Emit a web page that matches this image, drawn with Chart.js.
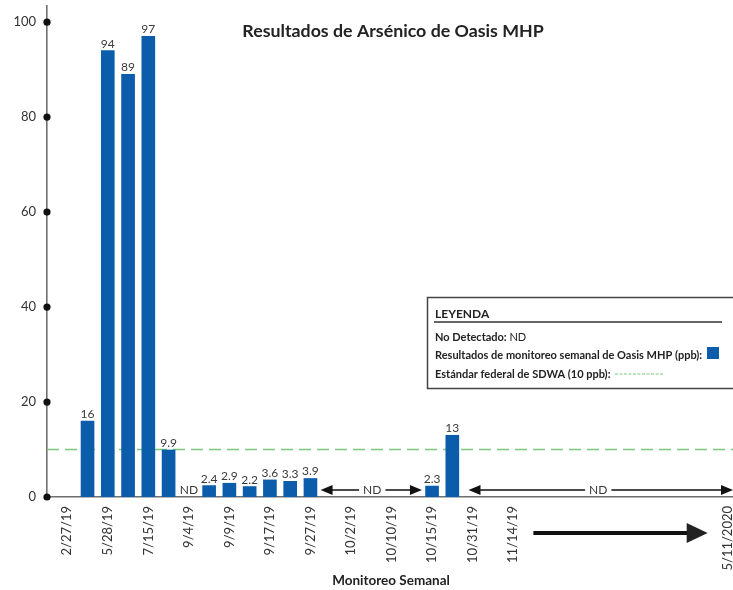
<!DOCTYPE html>
<html><head><meta charset="utf-8">
<script src="https://cdn.jsdelivr.net/npm/chart.js@4/dist/chart.umd.min.js"></script>
<style>html,body{margin:0;padding:0;background:#fff}#wrap{width:733px;height:590px;position:relative}</style>
</head><body><div id="wrap"><canvas id="c"></canvas></div>
<script>
// ---- data ----
const chartTitle = 'Resultados de Arsénico de Oasis MHP';
const xAxisTitle = 'Monitoreo Semanal';
const tickLabels = ['2/27/19','5/28/19','7/15/19','9/4/19','9/9/19','9/17/19','9/27/19','10/2/19','10/10/19','10/15/19','10/31/19','11/14/19','5/11/2020'];
const tickSlots  = [1,3,5,7,9,11,13,15,17,19,21,23,33.6];
const barSlots   = [2,3,4,5,6,8,9,10,11,12,13,19,20];
const barValues  = [16,94,89,97,9.9,2.4,2.9,2.2,3.6,3.3,3.9,2.3,13];
const barLabels  = ['16','94','89','97','9.9','2.4','2.9','2.2','3.6','3.3','3.9','2.3','13'];
const ndSlots    = [7];
const ndRanges   = [[13.5,18.5,16.05],[20.8,33.85,27.2]]; // from, to, label position (slots)
const sdwaStandard = 10;
const yTickValues = [0,20,40,60,80,100];
const xMax = 33.85, yMax = 103.4;
const legendTitle = 'LEYENDA';
const legendND = ['No Detectado:', 'ND'];
const legendBars = 'Resultados de monitoreo semanal de Oasis MHP (ppb):';
const legendStd = 'Estándar federal de SDWA (10 ppb):';
const continueArrow = [24.0, 32.6];

const FONT = 'Lato, "Open Sans", sans-serif';
const BLUE = '#0b5dab';
const GREEN = '#7cc87e';

function arrowHead(ctx, tipX, yy, dir, len, half){
  ctx.beginPath();
  ctx.moveTo(tipX, yy);
  ctx.lineTo(tipX - dir*len, yy - half);
  ctx.lineTo(tipX - dir*len, yy + half);
  ctx.closePath();
  ctx.fill();
}

function zeroPad(s){ s.paddingLeft = 0; s.paddingRight = 0; s.paddingTop = 0; s.paddingBottom = 0; }

const extras = {
  id: 'extras',
  afterDatasetsDraw(chart){
    const {ctx, chartArea: a, scales: {x, y}} = chart;
    ctx.save();
    // value labels
    const meta = chart.getDatasetMeta(1);
    ctx.fillStyle = '#3a3a3a';
    ctx.font = '12px ' + FONT;
    ctx.textAlign = 'center';
    ctx.textBaseline = 'alphabetic';
    meta.data.forEach((el, i) => {
      ctx.fillText(barLabels[i], el.x, el.y - 3);
    });
    // ND single
    const y0 = y.getPixelForValue(0) - 7;
    ctx.textBaseline = 'middle';
    ndSlots.forEach(s => ctx.fillText('ND', x.getPixelForValue(s), y0));
    // ND ranges
    ctx.strokeStyle = '#111'; ctx.fillStyle = '#111'; ctx.lineWidth = 1.6;
    ndRanges.forEach(([f, t, m]) => {
      const px1 = x.getPixelForValue(f), px2 = Math.min(x.getPixelForValue(t), a.right), pm = x.getPixelForValue(m);
      ctx.font = '12px ' + FONT;
      const w = ctx.measureText('ND').width;
      ctx.beginPath();
      ctx.moveTo(px1 + 8, y0); ctx.lineTo(pm - w/2 - 4, y0);
      ctx.moveTo(pm + w/2 + 4, y0); ctx.lineTo(px2 - 8, y0);
      ctx.stroke();
      arrowHead(ctx, px1, y0, -1, 12, 5);
      arrowHead(ctx, px2, y0, 1, 12, 5);
      ctx.fillStyle = '#3a3a3a';
      ctx.fillText('ND', pm, y0 + 0.5);
      ctx.fillStyle = '#111';
    });
    ctx.restore();
  },
  afterDraw(chart){
    const {ctx, chartArea: a, scales: {x, y}} = chart;
    ctx.save();
    // y tick dots
    ctx.fillStyle = '#111';
    yTickValues.forEach(v => {
      ctx.beginPath(); ctx.arc(a.left, y.getPixelForValue(v), 3.6, 0, Math.PI*2); ctx.fill();
    });
    // title
    ctx.fillStyle = '#222';
    ctx.font = 'bold 17.8px ' + FONT;
    ctx.textAlign = 'center'; ctx.textBaseline = 'middle';
    ctx.fillText(chartTitle, 393, 31);
    // x-axis title
    ctx.font = 'bold 13.5px ' + FONT;
    ctx.fillText(xAxisTitle, 391, 581);
    // continuation arrow
    const ay = a.bottom + 36;
    const ax1 = x.getPixelForValue(continueArrow[0]), ax2 = x.getPixelForValue(continueArrow[1]);
    ctx.strokeStyle = '#111'; ctx.lineWidth = 4;
    ctx.beginPath(); ctx.moveTo(ax1, ay); ctx.lineTo(ax2 - 18, ay); ctx.stroke();
    arrowHead(ctx, ax2, ay, 1, 21, 10);
    // legend box
    ctx.strokeStyle = '#444'; ctx.lineWidth = 1.5;
    ctx.strokeRect(427.5, 297.5, 320, 91);
    ctx.textAlign = 'left';
    ctx.fillStyle = '#222';
    ctx.font = 'bold 12px ' + FONT;
    ctx.fillText(legendTitle, 435, 314);
    ctx.strokeStyle = '#333'; ctx.lineWidth = 1.5;
    ctx.beginPath(); ctx.moveTo(434, 322); ctx.lineTo(722, 322); ctx.stroke();
    ctx.font = 'bold 11px ' + FONT;
    ctx.fillText(legendND[0], 435, 337);
    const wnd = ctx.measureText(legendND[0] + ' ').width;
    ctx.font = '11px ' + FONT;
    ctx.fillText(legendND[1], 435 + wnd, 337);
    ctx.font = 'bold 11px ' + FONT;
    ctx.fillText(legendBars, 435, 355);
    ctx.fillStyle = BLUE;
    ctx.fillRect(707, 347, 12, 12);
    ctx.fillStyle = '#222';
    ctx.fillText(legendStd, 435, 374);
    ctx.strokeStyle = GREEN; ctx.lineWidth = 1.2; ctx.setLineDash([3, 1.5]);
    ctx.beginPath(); ctx.moveTo(615, 374); ctx.lineTo(663, 374); ctx.stroke();
    ctx.restore();
  }
};

new Chart(document.getElementById('c'), {
  data: {
    datasets: [
      {
        type: 'line',
        data: [{x: 0, y: sdwaStandard}, {x: xMax, y: sdwaStandard}],
        borderColor: GREEN, borderWidth: 1.6, borderDash: [12, 6],
        pointRadius: 0, fill: false, order: 2
      },
      {
        type: 'bar',
        data: barSlots.map((s, i) => ({x: s, y: barValues[i]})),
        backgroundColor: BLUE, borderWidth: 0,
        barThickness: 13, order: 1
      }
    ]
  },
  options: {
    responsive: true, maintainAspectRatio: false, animation: false,
    layout: {padding: {top: 6, right: 0, left: 0, bottom: 0}},
    plugins: {legend: {display: false}, tooltip: {enabled: false}},
    scales: {
      x: {
        type: 'linear', min: 0, max: xMax, offset: false,
        grid: {display: false, drawTicks: false, offset: false},
        border: {display: true, color: '#6f6f6f', width: 1.6},
        afterBuildTicks: s => { s.ticks = tickSlots.map(v => ({value: v})); },
        afterFit: s => { s.height = 93; zeroPad(s); },
        ticks: {
          autoSkip: false, minRotation: 90, maxRotation: 90, padding: 9,
          color: '#333', font: {family: FONT, size: 13},
          callback: (v) => { const i = tickSlots.indexOf(v); return i >= 0 ? tickLabels[i] : ''; }
        }
      },
      y: {
        type: 'linear', min: 0, max: yMax,
        grid: {display: false, drawTicks: false},
        border: {display: true, color: '#6f6f6f', width: 1.6},
        afterBuildTicks: s => { s.ticks = yTickValues.map(v => ({value: v})); },
        afterFit: s => { s.width = 47; zeroPad(s); },
        ticks: {padding: 11, color: '#333', font: {family: FONT, size: 13}}
      }
    }
  },
  plugins: [extras]
});
</script>
</body></html>
